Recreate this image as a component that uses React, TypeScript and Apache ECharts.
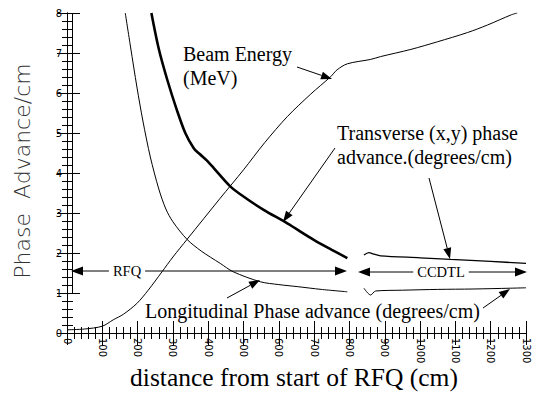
import React, { useEffect, useRef } from "react";
import * as echarts from "echarts";

// distance from start of RFQ (cm), value
const beamEnergy: [number, number][] = [
  [0, 0.08], [50, 0.1], [100, 0.17], [131, 0.33], [160, 0.47], [198, 0.74], [230, 1.07],
  [269, 1.53], [300, 1.9], [340, 2.34], [434, 3.37], [500, 4.08], [560, 4.76], [624, 5.41],
  [690, 5.97], [747, 6.41], [765, 6.58], [794, 6.73], [860, 6.84], [888, 6.91], [974, 7.09],
  [1049, 7.28], [1134, 7.51], [1191, 7.7], [1257, 7.95], [1275, 8.0],
];
const longitudinalRFQ: [number, number][] = [
  [165, 8.0], [180, 7.15], [198, 6.15], [215, 5.3], [236, 4.4], [260, 3.6], [280, 3.1],
  [300, 2.78], [340, 2.34], [380, 2.05], [434, 1.74], [471, 1.53], [548, 1.28],
  [600, 1.21], [652, 1.16], [720, 1.09], [794, 1.03],
];
const longitudinalCCDTL: [number, number][] = [
  [841, 1.12], [860, 0.95], [874, 1.05], [950, 1.07], [1050, 1.09], [1150, 1.1], [1257, 1.12], [1300, 1.13],
];
const transverseRFQ: [number, number][] = [
  [239, 8.0], [260, 7.1], [285, 6.3], [311, 5.58], [335, 5.0], [359, 4.62], [375, 4.48],
  [395, 4.32], [415, 4.13], [463, 3.66], [510, 3.35], [557, 3.08], [624, 2.74], [699, 2.33],
  [750, 2.08], [794, 1.87],
];
const transverseCCDTL: [number, number][] = [
  [841, 1.95], [855, 2.01], [870, 1.97], [888, 1.93], [1000, 1.88], [1087, 1.84], [1200, 1.79], [1300, 1.74],
];

const X_MIN = 0, X_MAX = 1300, X_STEP = 100;
const Y_MIN = 0, Y_MAX = 8, Y_STEP = 1;

const SERIF = "Liberation Serif";
const SANS = "DejaVu Sans";

function arrow(x1: number, y1: number, x2: number, y2: number, len = 11, w = 4) {
  const dx = x2 - x1, dy = y2 - y1;
  const L = Math.hypot(dx, dy);
  const ux = dx / L, uy = dy / L;
  const bx = x2 - ux * len, by = y2 - uy * len;
  const px = -uy, py = ux;
  return [
    { type: "line", silent: true, z: 50, shape: { x1, y1, x2: bx, y2: by }, style: { stroke: "#000", lineWidth: 1 } },
    { type: "polygon", silent: true, z: 50, shape: { points: [[x2, y2], [bx + px * w, by + py * w], [bx - px * w, by - py * w]] }, style: { fill: "#000" } },
  ];
}

function doubleArrow(x1: number, x2: number, y: number) {
  const len = 12, w = 4.5;
  return [
    { type: "line", silent: true, z: 50, shape: { x1: x1 + len, y1: y, x2: x2 - len, y2: y }, style: { stroke: "#000", lineWidth: 1 } },
    { type: "polygon", silent: true, z: 50, shape: { points: [[x1, y], [x1 + len, y - w], [x1 + len, y + w]] }, style: { fill: "#000" } },
    { type: "polygon", silent: true, z: 50, shape: { points: [[x2, y], [x2 - len, y - w], [x2 - len, y + w]] }, style: { fill: "#000" } },
  ];
}

function txt(text: string, x: number, y: number, size: number, align = "left", family = SERIF, bg?: string) {
  return {
    type: "text", silent: true, z: 60, x, y,
    style: {
      text, fill: "#000", fontSize: size, fontFamily: family, align, verticalAlign: "middle",
      ...(bg ? { backgroundColor: bg, padding: [0, 4] } : {}),
    },
  };
}

export default function App() {
  const ref = useRef<HTMLDivElement>(null);
  useEffect(() => {
    const chart = echarts.init(ref.current!, null, { renderer: "svg" });
    const tickAxisCommon = {
      axisLine: { show: true, lineStyle: { color: "#000", width: 1 } },
      splitLine: { show: false },
    };
    const lineSeries = (data: [number, number][], width: number) => ({
      type: "line", data, symbol: "none", smooth: 0.3,
      lineStyle: { color: "#000", width }, silent: true, z: 3,
    });
    const option: any = {
      animation: false,
      backgroundColor: "#fff",
      grid: { left: 67, right: 9, top: 13, bottom: 66, containLabel: false },
      xAxis: [
        {
          type: "value", min: X_MIN, max: X_MAX, interval: X_STEP, position: "bottom",
          ...tickAxisCommon,
          axisTick: { show: true, inside: true, length: 12, lineStyle: { color: "#000" } },
          minorTick: { show: true, splitNumber: 5, length: 6, lineStyle: { color: "#000" } },
          axisLabel: { rotate: -90, fontSize: 10, color: "#000", fontFamily: SANS, margin: 5, formatter: (v: number) => String(v) },
        },
        {
          type: "value", min: X_MIN, max: X_MAX, interval: X_STEP, position: "top",
          ...tickAxisCommon,
          axisTick: { show: true, inside: true, length: 12, lineStyle: { color: "#000" } },
          minorTick: { show: true, splitNumber: 5, length: 6, lineStyle: { color: "#000" } },
          axisLabel: { show: false },
        },
      ],
      yAxis: [
        {
          type: "value", min: Y_MIN, max: Y_MAX, interval: Y_STEP, position: "left",
          ...tickAxisCommon,
          axisTick: { show: true, inside: true, length: 13, lineStyle: { color: "#000" } },
          minorTick: { show: true, splitNumber: 5, length: 6, lineStyle: { color: "#000" } },
          axisLabel: { fontSize: 10, color: "#000", fontFamily: SANS, margin: 5 },
        },
        {
          type: "value", min: Y_MIN, max: Y_MAX, interval: Y_STEP, position: "right",
          ...tickAxisCommon,
          axisTick: { show: true, inside: true, length: 10, lineStyle: { color: "#000" } },
          minorTick: { show: true, splitNumber: 5, length: 5, lineStyle: { color: "#000" } },
          axisLabel: { show: false },
        },
      ],
      series: [
        lineSeries(beamEnergy, 1),
        lineSeries(longitudinalRFQ, 1),
        lineSeries(longitudinalCCDTL, 1),
        lineSeries(transverseRFQ, 2.6),
        lineSeries(transverseCCDTL, 1.3),
      ],
      graphic: [
        { type: "line", silent: true, shape: { x1: 72.5, y1: 13, x2: 72.5, y2: 293 }, style: { stroke: "#000", lineWidth: 1 } },
        {
          type: "text", silent: true, x: 22, y: 171, rotation: Math.PI / 2,
          style: { text: "Phase  Advance/cm", fill: "#333", fontSize: 22, fontFamily: SANS, fontWeight: 200, align: "center", verticalAlign: "middle" },
        },
        txt("distance from start of RFQ (cm)", 294, 377, 25.5, "center"),
        txt("Beam Energy", 183, 54, 20),
        txt("(MeV)", 183, 78, 20),
        txt("Transverse (x,y) phase", 337, 133, 20),
        txt("advance.(degrees/cm)", 337, 157, 20),
        txt("Longitudinal Phase advance (degrees/cm)", 145, 311, 20),
        ...doubleArrow(71, 347, 271),
        ...doubleArrow(358, 527, 272),
        txt("RFQ", 127, 271, 14.5, "center", SERIF, "#fff"),
        txt("CCDTL", 441, 272, 14.5, "center", SERIF, "#fff"),
        ...arrow(297, 67, 332, 79),
        ...arrow(335, 148, 283, 222),
        ...arrow(429, 178, 450, 259),
        ...arrow(227, 298, 260, 280),
        ...arrow(483, 308, 510, 289),
      ],
    };
    chart.setOption(option);
    return () => chart.dispose();
  }, []);
  return <div ref={ref} style={{ position: "absolute", left: 0, top: 0, width: 535, height: 399 }} />;
}
